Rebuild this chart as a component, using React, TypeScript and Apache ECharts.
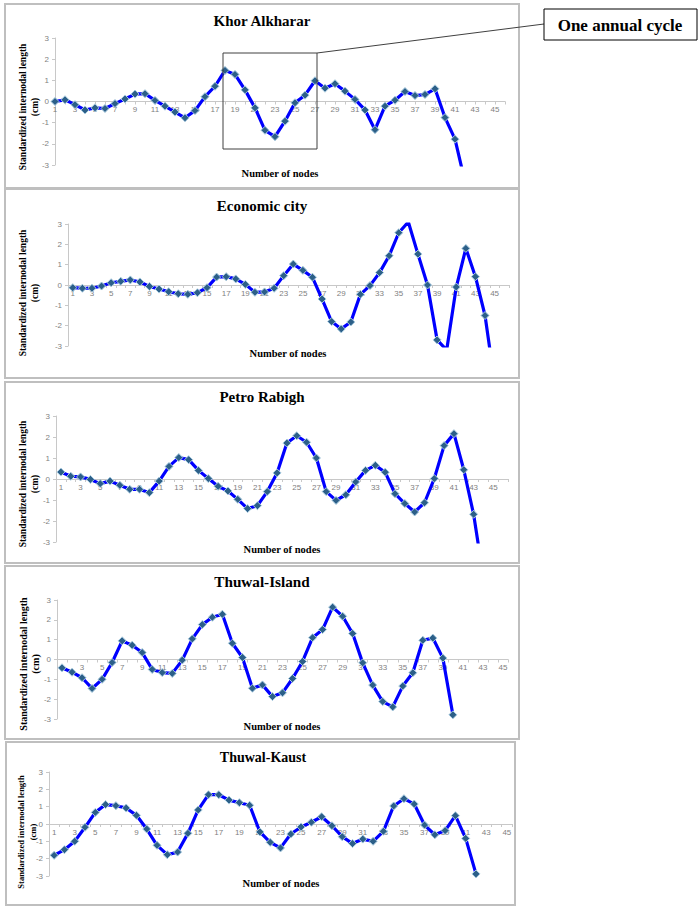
import React, { useEffect, useRef } from "react";
import * as echarts from "echarts";

// ---- data ----
const nodes46 = ["1","2","3","4","5","6","7","8","9","10","11","12","13","14","15","16","17","18","19","20","21","22","23","24","25","26","27","28","29","30","31","32","33","34","35","36","37","38","39","40","41","42","43","44","45","46"];
const nodes45 = nodes46.slice(0, 45);
const yTicks = [-3, -2, -1, 0, 1, 2, 3];

const khorAlkharar = [0, 0.08, -0.15, -0.4, -0.3, -0.33, -0.1, 0.12, 0.35, 0.37, 0.05, -0.22, -0.5, -0.77, -0.43, 0.23, 0.72, 1.47, 1.28, 0.55, -0.3, -1.36, -1.66, -0.93, -0.06, 0.3, 0.98, 0.63, 0.84, 0.49, 0.1, -0.4, -1.33, -0.22, 0.06, 0.47, 0.28, 0.33, 0.6, -0.76, -1.78, -3.8];
const economicCity = [-0.13, -0.16, -0.16, -0.05, 0.11, 0.18, 0.25, 0.15, -0.07, -0.2, -0.33, -0.43, -0.46, -0.38, -0.13, 0.39, 0.41, 0.3, 0.03, -0.36, -0.34, -0.16, 0.46, 1.03, 0.72, 0.38, -0.69, -1.8, -2.16, -1.82, -0.46, -0.03, 0.61, 1.44, 2.57, 3.1, 1.52, 0.0, -2.7, -3.2, -0.1, 1.8, 0.41, -1.5, -4.8];
const petroRabigh = [0.33, 0.13, 0.1, -0.02, -0.22, -0.1, -0.3, -0.49, -0.49, -0.65, -0.1, 0.6, 1.02, 0.92, 0.41, 0.02, -0.35, -0.57, -0.97, -1.41, -1.27, -0.6, 0.29, 1.71, 2.06, 1.75, 1.0, -0.6, -1.02, -0.75, -0.14, 0.41, 0.65, 0.32, -0.7, -1.17, -1.57, -1.13, 0.02, 1.59, 2.16, 0.44, -1.68, -4.7];
const thuwalIsland = [-0.42, -0.64, -0.92, -1.46, -1.0, -0.15, 0.94, 0.72, 0.35, -0.5, -0.66, -0.7, -0.03, 1.04, 1.76, 2.13, 2.28, 0.82, 0.1, -1.45, -1.28, -1.87, -1.68, -0.96, -0.1, 1.1, 1.51, 2.64, 2.18, 1.31, -0.17, -1.29, -2.12, -2.39, -1.34, -0.67, 0.97, 1.08, 0.07, -2.79];
const thuwalKaust = [-1.81, -1.48, -1.0, -0.19, 0.67, 1.12, 1.06, 0.92, 0.5, -0.29, -1.23, -1.77, -1.62, -0.54, 0.81, 1.69, 1.69, 1.38, 1.23, 1.08, -0.46, -1.06, -1.38, -0.58, -0.17, 0.1, 0.42, -0.1, -0.73, -1.13, -0.87, -1.0, -0.42, 1.04, 1.46, 1.15, -0.06, -0.62, -0.38, 0.48, -0.83, -2.88];

const titles = ["Khor Alkharar", "Economic city", "Petro Rabigh", "Thuwal-Island", "Thuwal-Kaust"];
const xAxisName = "Number of nodes";
const yAxisName = "Standardized internodal length\n(cm)";
const annotationText = "One annual cycle";

// ---- layout ----
const panels = [
  { title: titles[0], data: khorAlkharar, cats: nodes46, gap: false, box: [5, 4, 514, 184], grid: { left: 55, top: 38, width: 450, height: 127 }, t: [262, 21, 15], xn: [280, 173], yn: [29, 107, 9.5] },
  { title: titles[1], data: economicCity, cats: nodes46, gap: true, box: [5, 189, 514, 189], grid: { left: 68, top: 224, width: 441, height: 122 }, t: [262, 206, 15], xn: [288, 353], yn: [29, 293, 9.5] },
  { title: titles[2], data: petroRabigh, cats: nodes46, gap: true, box: [5, 382, 514, 181], grid: { left: 56, top: 416, width: 452, height: 126 }, t: [262, 397, 15], xn: [282, 549], yn: [29, 484, 9.5] },
  { title: titles[3], data: thuwalIsland, cats: nodes45, gap: true, box: [5, 566, 514, 173], grid: { left: 57, top: 600, width: 451, height: 119 }, t: [262, 581, 15.2], xn: [282, 726], yn: [29, 664, 10] },
  { title: titles[4], data: thuwalKaust, cats: nodes45, gap: true, box: [6, 742, 509, 163], grid: { left: 49, top: 772, width: 463, height: 104 }, t: [263, 757, 14], xn: [281, 883], yn: [27, 832, 8.5] },
];

const SERIF = '"Liberation Serif", "Times New Roman", serif';

export default function App() {
  const ref = useRef<HTMLDivElement>(null);
  useEffect(() => {
    if (!ref.current) return;
    const chart = echarts.init(ref.current, null, { renderer: "svg" });
    const grid: any[] = [];
    const xAxis: any[] = [];
    const yAxis: any[] = [];
    const series: any[] = [];
    const graphic: any[] = [];

    panels.forEach((p, i) => {
      graphic.push({
        type: "rect", z: 0, silent: true,
        shape: { x: p.box[0], y: p.box[1], width: p.box[2], height: p.box[3] },
        style: { fill: "none", stroke: "#bfbfbf", lineWidth: 2 },
      });
      graphic.push({
        type: "text", z: 10,
        x: p.t[0], y: p.t[1],
        style: { text: p.title, font: `bold ${p.t[2]}px ${SERIF}`, fill: "#000", align: "center", verticalAlign: "middle", textAlign: "center", textVerticalAlign: "middle" },
      });
      graphic.push({
        type: "text", z: 10,
        x: p.xn[0], y: p.xn[1],
        style: { text: xAxisName, font: `bold 10.5px ${SERIF}`, fill: "#000", align: "center", verticalAlign: "middle", textAlign: "center", textVerticalAlign: "middle" },
      });
      graphic.push({
        type: "text", z: 10,
        x: p.yn[0], y: p.yn[1], rotation: Math.PI / 2,
        style: { text: yAxisName, font: `bold ${p.yn[2]}px ${SERIF}`, lineHeight: 12, fill: "#000", align: "center", verticalAlign: "middle", textAlign: "center", textVerticalAlign: "middle" },
      });

      grid.push({ ...p.grid });
      // zero sits in the middle of the -3..3 range: lift the category axis there
      xAxis.push({
        type: "category", gridIndex: i, data: p.cats, boundaryGap: p.gap,
        position: "bottom", offset: -p.grid.height / 2,
        axisLine: { onZero: false, lineStyle: { color: "#c8c8c8", width: 1 } },
        axisTick: { show: true, length: 3, interval: 0, lineStyle: { color: "#c8c8c8" } },
        axisLabel: { interval: 1, fontSize: 8, color: "#7f7f7f", margin: 4, fontFamily: "Liberation Sans" },
        splitLine: { show: false },
      });
      yAxis.push({
        type: "value", gridIndex: i, min: yTicks[0], max: yTicks[yTicks.length - 1], interval: 1,
        axisLine: { show: true, onZero: false, lineStyle: { color: "#c8c8c8", width: 1 } },
        axisTick: { show: true, length: 3, lineStyle: { color: "#c8c8c8" } },
        axisLabel: { fontSize: 8, color: "#7f7f7f", margin: 6, fontFamily: "Liberation Sans" },
        splitLine: { show: false },
      });
      series.push({
        type: "line", name: p.title, xAxisIndex: i, yAxisIndex: i, data: p.data,
        clip: true, showAllSymbol: true, symbol: "diamond", symbolSize: 8,
        lineStyle: { color: "#0000ff", width: 3.2 },
        itemStyle: { color: "#2c5f88", borderColor: "#a9cbe0", borderWidth: 1 },
        z: 3,
      });
    });

    // annotation: one annual cycle
    graphic.push({
      type: "rect", z: 20, silent: true,
      shape: { x: 223, y: 53, width: 94, height: 96 },
      style: { fill: "none", stroke: "#404040", lineWidth: 1 },
    });
    graphic.push({
      type: "line", z: 20, silent: true,
      shape: { x1: 317, y1: 53, x2: 544, y2: 24 },
      style: { stroke: "#404040", lineWidth: 1 },
    });
    graphic.push({
      type: "rect", z: 20, silent: true,
      shape: { x: 544, y: 9, width: 153, height: 31 },
      style: { fill: "#fff", stroke: "#000", lineWidth: 1 },
    });
    graphic.push({
      type: "text", z: 21,
      x: 620, y: 25,
      style: { text: annotationText, font: `bold 17px ${SERIF}`, fill: "#000", align: "center", verticalAlign: "middle", textAlign: "center", textVerticalAlign: "middle" },
    });

    chart.setOption({
      animation: false,
      backgroundColor: "#ffffff",
      grid, xAxis, yAxis, series, graphic,
    });
    return () => chart.dispose();
  }, []);
  return <div ref={ref} style={{ position: "absolute", left: 0, top: 0, width: 700, height: 911 }} />;
}
